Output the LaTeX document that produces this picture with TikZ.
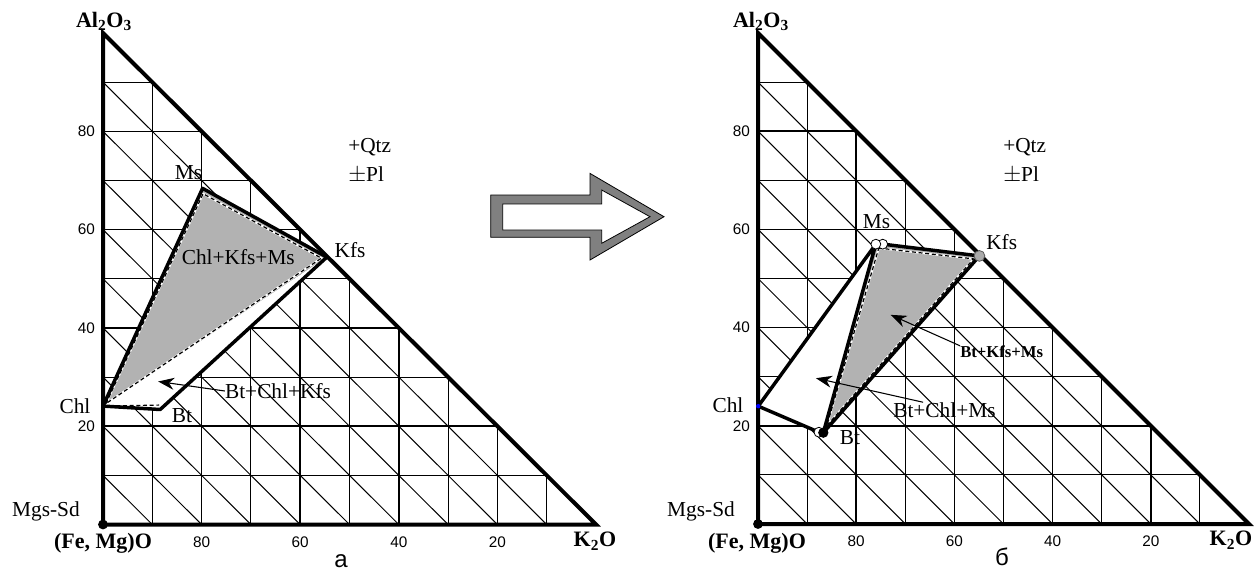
\documentclass[tikz,border=0pt]{standalone}
\usepackage{fontspec}
\setmainfont{Liberation Serif}
\newfontfamily\arialf{Liberation Sans}
\usetikzlibrary{arrows.meta}
\tikzset{
  lbl/.style={font=\fontsize{16}{18}\selectfont, inner sep=0pt},
  blbl/.style={font=\bfseries\fontsize{12.5}{14}\selectfont, inner sep=0pt},
  num/.style={font=\arialf\fontsize{11.5}{13}\selectfont, inner sep=0pt},
  axlbl/.style={font=\bfseries\fontsize{16.5}{18}\selectfont, inner sep=0pt},
  panel/.style={font=\arialf\fontsize{18}{20}\selectfont, inner sep=0pt},
  gthin/.style={line width=0.75pt},
  gthick/.style={line width=1.1pt},
  outer/.style={line width=3pt},
  phase/.style={line width=2.6pt, line join=round},
  phasegray/.style={fill={rgb,255:red,178;green,178;blue,178}},
  dashb/.style={line width=0.9pt, dash pattern=on 3pt off 2pt,
                preaction={draw=white, line width=1.5pt, solid}},
  ptr/.style={line width=0.8pt, -{Stealth[length=12pt,width=9pt]}},
  openpt/.style={draw=black, fill=white, line width=0.6pt},
}
\newcommand{\trigrid}{%
  \foreach \k in {10,30,50,70,90}{%
    \draw[gthin] (0,\k) -- ({100-\k},\k);
    \draw[gthin] (\k,0) -- (\k,{100-\k});}
  \foreach \k in {20,40,60,80}{%
    \draw[gthick] (0,\k) -- ({100-\k},\k);
    \draw[gthick] (\k,0) -- (\k,{100-\k});}
  \foreach \k in {10,20,...,90}{%
    \draw[gthin] (0,\k) -- (\k,0);}
}
\newcommand{\trinumbers}[1]{%
  \node[num, anchor=east] (#1n80) at (-1.6,80) {80};
  \node[num, anchor=east] (#1n60) at (-1.6,60) {60};
  \node[num, anchor=east] (#1n40) at (-1.6,40) {40};
  \node[num, anchor=east] (#1n20) at (-1.6,20) {20};
  \node[num] (#1b80) at (20,-3.6) {80};
  \node[num] (#1b60) at (40,-3.6) {60};
  \node[num] (#1b40) at (60,-3.6) {40};
  \node[num] (#1b20) at (80,-3.6) {20};
}
\begin{document}
\begin{tikzpicture}[x=0.75pt,y=-0.75pt]
\useasboundingbox (0,0) rectangle (1259,576);
\fill[white] (0,0) rectangle (1259,576);

% ---------------- left diagram ----------------
\begin{scope}[shift={(77.25pt,-393.375pt)}, x=3.6975pt, y=3.686pt]
  \trigrid
  \coordinate (LChl) at (0,24.1);
  \coordinate (LMs)  at (20.2,68.4);
  \coordinate (LKfs) at (45.4,54.4);
  \coordinate (LBt)  at (11.6,23.4);
  \coordinate (LBtd) at (11.4,24.3);
  \coordinate (LTip) at (11.2,29.1);
  \coordinate (LO)   at (0,0);
  \fill[phasegray] (LChl) -- (LMs) -- (LKfs) -- cycle;
  \fill[white] (LChl) -- (LBt) -- (LKfs) -- cycle;
  \draw[dashb] (0.6,24.6) -- (20.3,67.3) -- (44.3,54.2) -- cycle;
  \draw[dashb] (LChl) -- (LBtd);
  \draw[phase] (LChl) -- (LMs) -- (LKfs);
  \draw[phase] (LChl) -- (LBt) -- (LKfs);
  \draw[outer] (0,100) -- (0,0) -- (100,0) -- cycle;
  \fill (LO) circle[radius=1];
  \trinumbers{L}
\end{scope}

\node[axlbl, anchor=base] (LAl) at (104,27) {Al\textsubscript{2}O\textsubscript{3}};
\node[axlbl] (LFe) at (103,543) {(Fe, Mg)O};
\node[axlbl] (LK) at (595,541) {K\textsubscript{2}O};
\node[lbl] (LMgs) at (46,511.5) {Mgs-Sd};
\node[lbl] (LChlL) at (75,406.5) {Chl};
\node[lbl] (LBtL) at (182,416) {Bt};
\node[lbl] (LMsL) at (188.5,172.5) {Ms};
\node[lbl] (LKfsL) at (350,250) {Kfs};
\node[lbl, anchor=west] (LQtz) at (348,147) {+Qtz};
\node[lbl, anchor=west] (LPl) at (348,175) {\(\pm\)Pl};
\node[lbl] (LCKM) at (238.3,257) {Chl+Kfs+Ms};
\node[lbl] (LBCK) at (278,391) {Bt+Chl+Kfs};
\draw[ptr] (LBCK.west) -- (LTip);
\node[panel] (La) at (341,561) {а};

% ---------------- block arrow ----------------
\draw[fill={rgb,255:red,128;green,128;blue,128}, line width=0.6pt]
  (490.7,195) -- (590,195) -- (590,173.4) -- (664,216.7) -- (590,260) -- (590,237.3) -- (490.7,237.3) -- cycle;
\draw[fill=white, line width=0.6pt]
  (502.7,204) -- (601.7,204) -- (601.7,190) -- (650,216.7) -- (601.7,243.3) -- (601.7,230) -- (502.7,230) -- cycle;

% ---------------- right diagram ----------------
\begin{scope}[shift={(568.5pt,-393pt)}, x=3.6825pt, y=3.6825pt]
  \trigrid
  \coordinate (RChl) at (0.05,24.0);
  \coordinate (RMs)  at (24.0,57.0);
  \coordinate (RMsb) at (25.4,57.0);
  \coordinate (RKfs) at (45.1,54.6);
  \coordinate (RBt)  at (13.3,18.6);
  \coordinate (RBtw) at (12.4,18.7);
  \coordinate (RTipA) at (27.0,42.6);
  \coordinate (RTipB) at (11.8,29.7);
  \coordinate (RO)   at (0,0);
  \fill[white] (RChl) -- (RMs) -- (RBt) -- cycle;
  \fill[phasegray] (RMs) -- (RKfs) -- (RBt) -- cycle;
  \draw[dashb] (24.6,56.2) -- (43.9,54.0) -- (14.0,20.0) -- cycle;
  \draw[phase] (RChl) -- (RMs) -- (RBt);
  \draw[phase] (RChl) -- (RBtw);
  \draw[phase] (RMsb) -- (RKfs) -- (RBt);
  \draw[outer] (0,100) -- (0,0) -- (100,0) -- cycle;
  \fill (RO) circle[radius=1];
  \draw[openpt] (RMsb) circle[radius=1];
  \draw[openpt] (RMs) circle[radius=1];
  \draw[fill={rgb,255:red,170;green,170;blue,170}, draw={rgb,255:red,90;green,90;blue,90}, line width=0.6pt] (RKfs) circle[radius=1.1];
  \draw[openpt] (RBtw) circle[radius=1];
  \fill (RBt) circle[radius=1.05];
  \fill[blue] (RChl) circle[radius=0.45];
  \trinumbers{R}
\end{scope}

\node[axlbl, anchor=base] (RAl) at (761,27) {Al\textsubscript{2}O\textsubscript{3}};
\node[axlbl] (RFe) at (757,543) {(Fe, Mg)O};
\node[axlbl] (RK) at (1231,540) {K\textsubscript{2}O};
\node[lbl] (RMgs) at (701,511.5) {Mgs-Sd};
\node[lbl] (RChlL) at (728,405.5) {Chl};
\node[lbl] (RBtL) at (850,438) {Bt};
\node[lbl] (RMsL) at (876.5,222) {Ms};
\node[lbl] (RKfsL) at (1001.7,242) {Kfs};
\node[lbl, anchor=west] (RQtz) at (1003,147) {+Qtz};
\node[lbl, anchor=west] (RPl) at (1003,175) {\(\pm\)Pl};
\node[blbl, anchor=west] (RBKM) at (960,352) {Bt+Kfs+Ms};
\node[lbl, anchor=west] (RBCM) at (893,410) {Bt+Chl+Ms};
\draw[ptr] (RBKM.north west) -- (RTipA);
\draw[ptr] (RBCM.160) -- (RTipB);
\node[panel] (Rb) at (1002,557) {б};
\end{tikzpicture}
\end{document}
